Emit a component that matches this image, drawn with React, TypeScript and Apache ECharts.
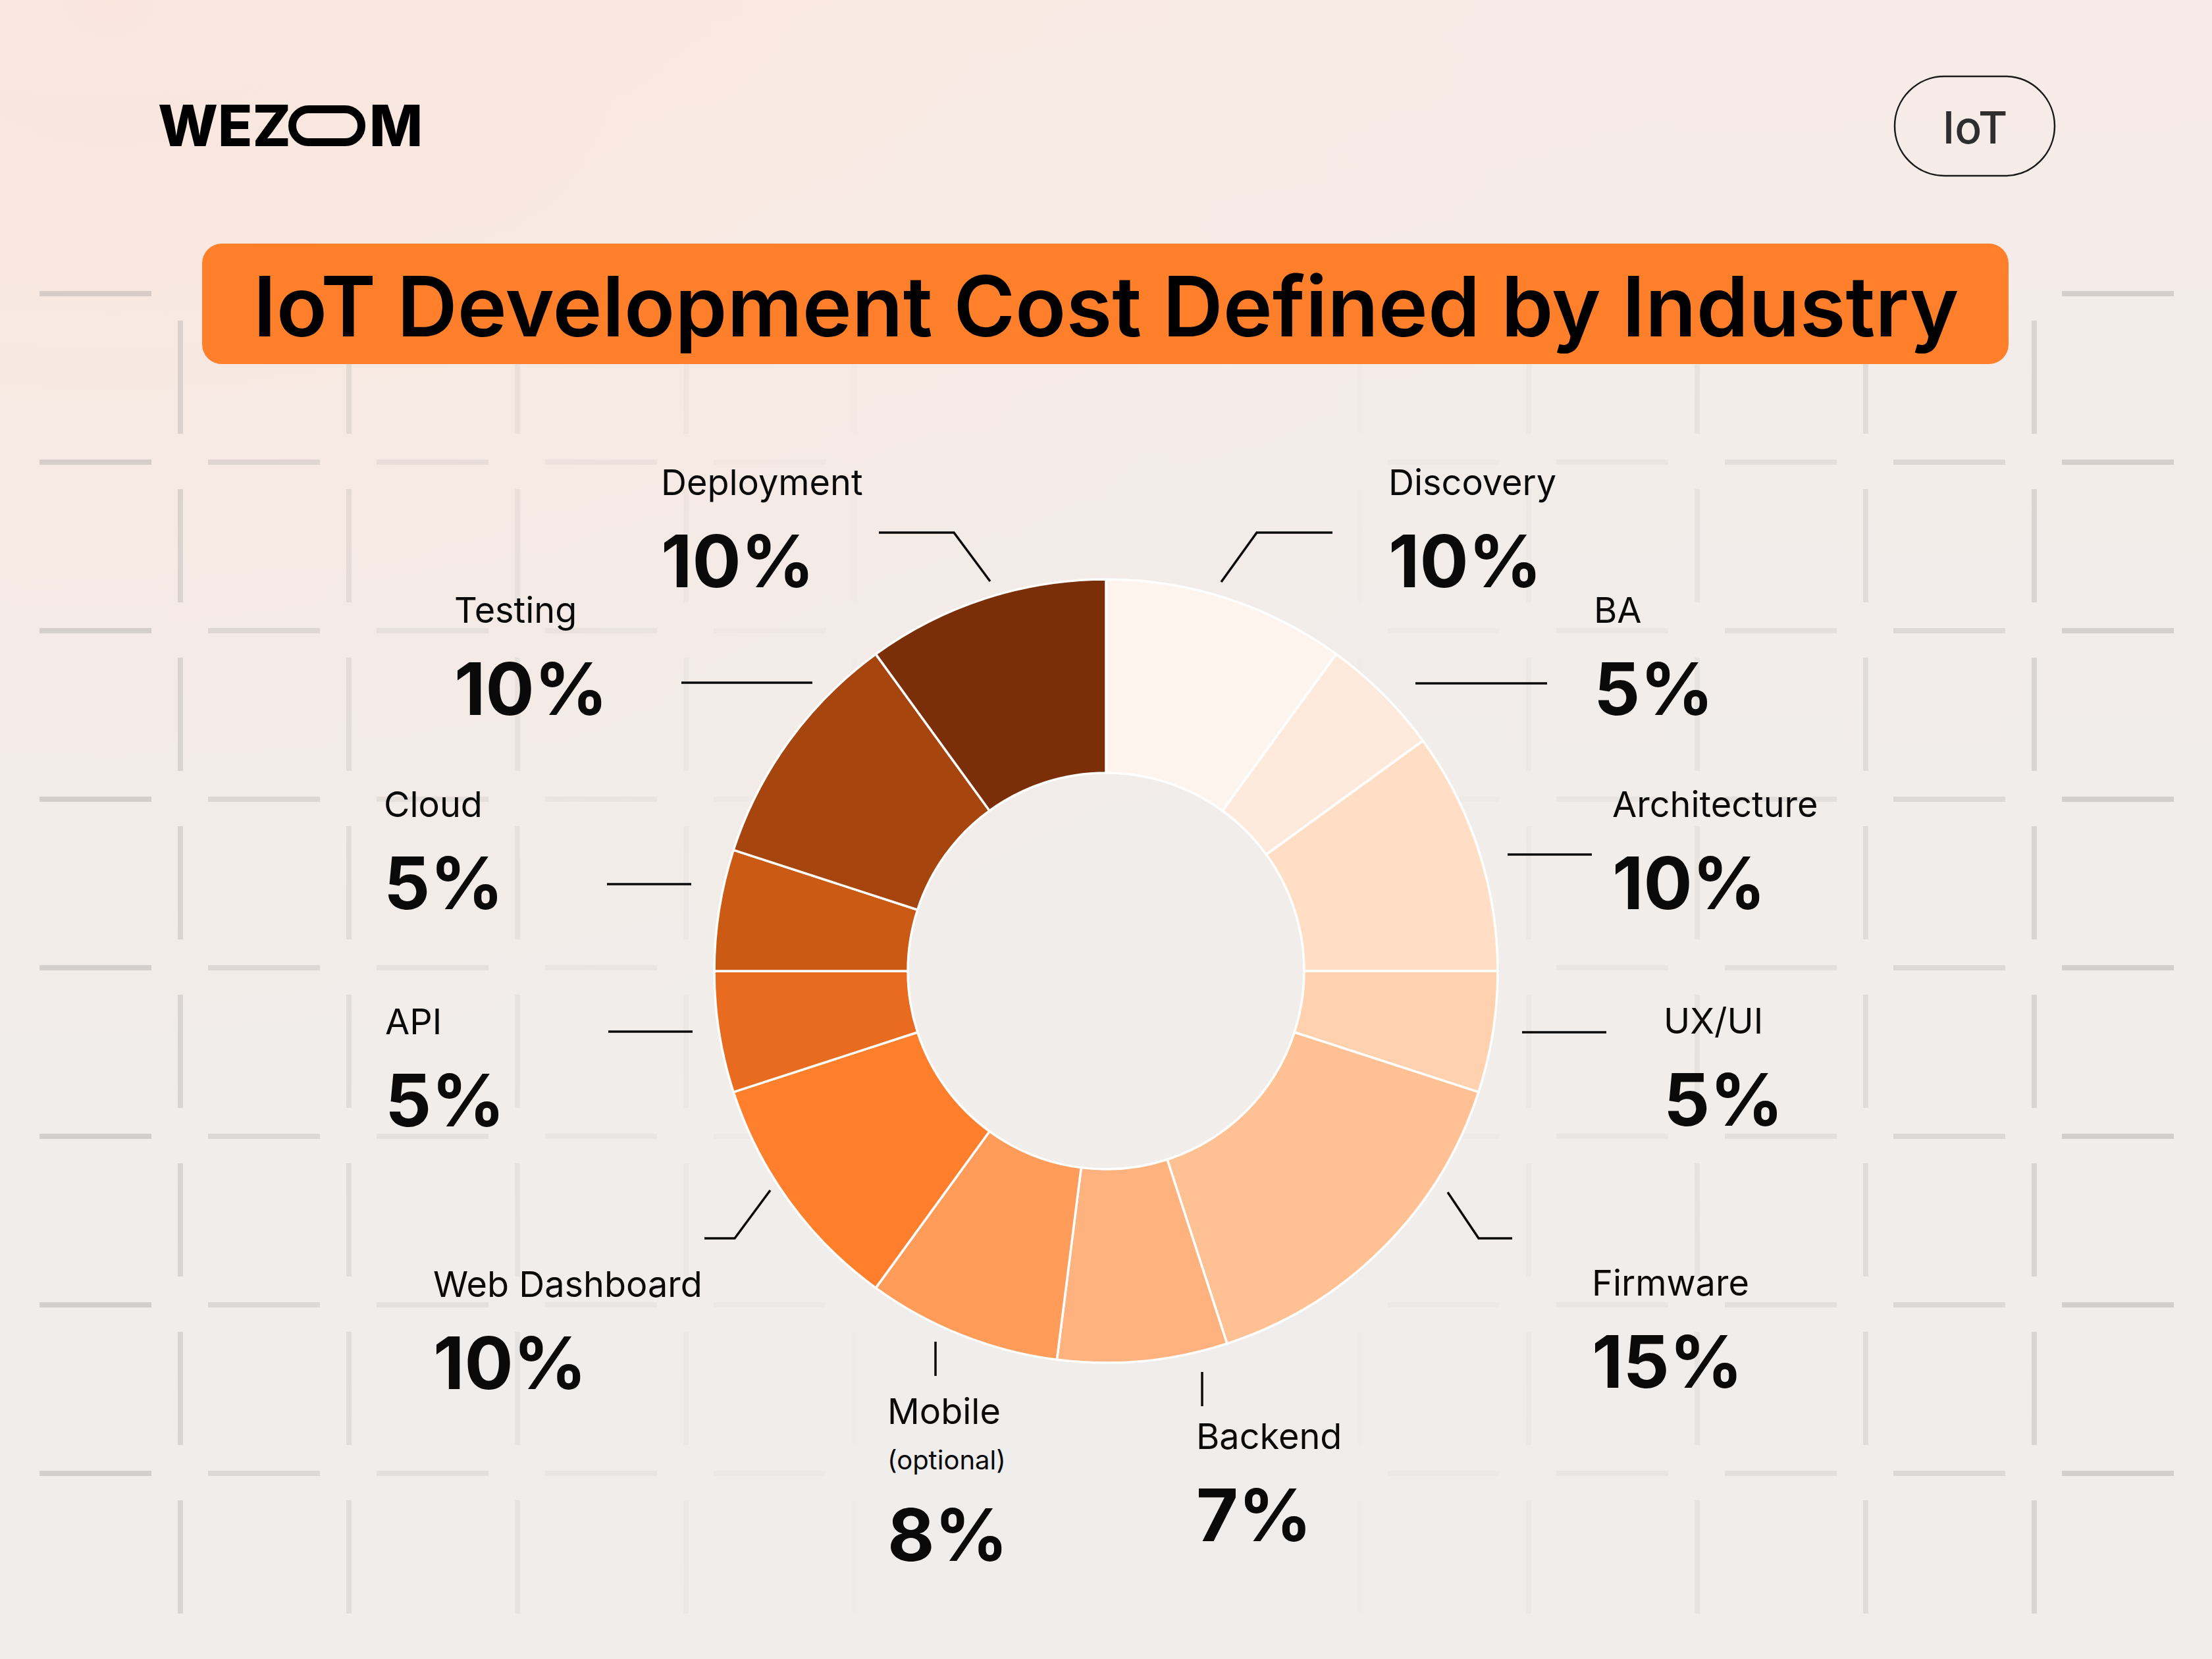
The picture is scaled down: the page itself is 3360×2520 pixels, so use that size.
import React, { useEffect, useRef } from 'react';
import * as echarts from 'echarts';

// ---------- data ----------
const categories = ['Discovery', 'BA', 'Architecture', 'UX/UI', 'Firmware', 'Backend', 'Mobile', 'Web Dashboard', 'API', 'Cloud', 'Testing', 'Deployment'];
const shares = [10, 5, 10, 5, 15, 7, 8, 10, 5, 5, 10, 10];
const notes = ['', '', '', '', '', '', '(optional)', '', '', '', '', ''];
const sliceColors = ['#FEF4EE', '#FEEADC', '#FFDEC5', '#FFD1AF', '#FFC193', '#FFB27E', '#FF9C5A', '#FF7F2C', '#E86B1F', '#CB5A15', '#A6460E', '#7B2F09'];
const titleText = 'IoT Development Cost Defined by Industry';
const brandParts = ['WEZ', 'M'];
const tagText = 'IoT';

// ---------- layout (positions only) ----------
const labelAnchors = [
  [2109, 732], [2421, 926], [2449, 1221], [2527, 1550], [2418, 1948], [1817, 2181],
  [1348, 2143], [658, 1950], [585, 1551], [583, 1221], [690, 926], [1004, 732],
];
const leaderLines = [
  [[1855, 884], [1909, 809], [2024, 809]],
  [[2150, 1038], [2250, 1038], [2350, 1038]],
  [[2290, 1298], [2354, 1298], [2418, 1298]],
  [[2312, 1568], [2376, 1568], [2440, 1568]],
  [[2199, 1811], [2246, 1881], [2297, 1881]],
  [[1826, 2084], [1826, 2110], [1826, 2136]],
  [[1421, 2038], [1421, 2064], [1421, 2090]],
  [[1170, 1808], [1116, 1881], [1070, 1881]],
  [[1052, 1567], [988, 1567], [924, 1567]],
  [[1050, 1343], [986, 1343], [922, 1343]],
  [[1234, 1037], [1134, 1037], [1035, 1037]],
  [[1504, 883], [1449, 809], [1335, 809]],
];

const W = 3360;
const H = 2520;
const FONT = 'Inter, "Noto Sans", sans-serif';

function buildGraphics() {
  const g: any[] = [];
  // soft peach glow top-left
  g.push({
    type: 'rect', z: 0, silent: true,
    shape: { x: 0, y: 0, width: W, height: H },
    style: {
      fill: new echarts.graphic.RadialGradient(0.05, 0.0, 0.7, [
        { offset: 0, color: 'rgba(252,226,214,0.55)' },
        { offset: 1, color: 'rgba(252,226,214,0)' },
      ]),
    },
  });
  // dashed grid pattern
  const fade = (cx: number) => {
    const t = Math.min(1, Math.abs(cx - 1680) / 1600);
    return 0.36 * t * t;
  };
  for (let k = 0; k < 8; k++) {
    for (let j = 0; j < 13; j++) {
      const x = 60 + 256 * j;
      const a = fade(x + 85);
      if (a < 0.01) continue;
      g.push({ type: 'rect', z: 0, silent: true, shape: { x, y: 442 + 256 * k, width: 170, height: 8 }, style: { fill: `rgba(150,150,150,${a.toFixed(3)})` } });
    }
    for (let j = 0; j < 12; j++) {
      const x = 274 + 256 * j;
      const a = fade(x);
      if (a < 0.01) continue;
      g.push({ type: 'rect', z: 0, silent: true, shape: { x: x - 4, y: 487 + 256 * k, width: 8, height: 172 }, style: { fill: `rgba(150,150,150,${a.toFixed(3)})` } });
    }
  }
  // logo
  g.push({ type: 'text', z: 6, silent: true, style: { text: brandParts[0], x: 240, y: 191, fill: '#000', fontSize: 86, fontWeight: 800, fontFamily: FONT, align: 'left', verticalAlign: 'middle', textAlign: 'left', textVerticalAlign: 'middle' } });
  g.push({ type: 'rect', z: 6, silent: true, shape: { x: 444, y: 166, width: 105, height: 50, r: 25 }, style: { fill: 'none', stroke: '#000', lineWidth: 12 } });
  g.push({ type: 'text', z: 6, silent: true, style: { text: brandParts[1], x: 561, y: 191, fill: '#000', fontSize: 86, fontWeight: 800, fontFamily: FONT, align: 'left', verticalAlign: 'middle', textAlign: 'left', textVerticalAlign: 'middle' } });
  // tag pill
  g.push({ type: 'rect', z: 6, silent: true, shape: { x: 2878, y: 116, width: 243, height: 151, r: 75.5 }, style: { fill: 'none', stroke: '#1A1A1A', lineWidth: 2.5 } });
  g.push({ type: 'text', z: 6, silent: true, style: { text: tagText, x: 3000, y: 193, fill: '#2E2E2E', fontSize: 68, fontWeight: 500, fontFamily: FONT, align: 'center', verticalAlign: 'middle', textAlign: 'center', textVerticalAlign: 'middle' } });
  // title banner
  g.push({ type: 'rect', z: 6, silent: true, shape: { x: 307, y: 370, width: 2744, height: 183, r: 30 }, style: { fill: '#FF7F2A' } });
  g.push({ type: 'text', z: 7, silent: true, style: { text: titleText, x: 1680, y: 465, fill: '#000', fontSize: 127, fontWeight: 600, fontFamily: FONT, align: 'center', verticalAlign: 'middle', textAlign: 'center', textVerticalAlign: 'middle' } });
  return g;
}

export default function App() {
  const ref = useRef<HTMLDivElement>(null);
  useEffect(() => {
    document.body.style.margin = '0';
    if (!ref.current) return;
    const chart = echarts.init(ref.current, null, { renderer: 'svg', width: W, height: H });
    const option: any = {
      animation: false,
      backgroundColor: new echarts.graphic.LinearGradient(0, 0, 0, 1, [
        { offset: 0, color: '#F7EBE7' },
        { offset: 0.35, color: '#F2EDEA' },
        { offset: 1, color: '#EFEEED' },
      ]),
      graphic: { elements: buildGraphics() },
      series: [
        {
          type: 'pie',
          z: 3,
          silent: true,
          center: [1680, 1475],
          radius: [301, 595],
          startAngle: 90,
          clockwise: true,
          avoidLabelOverlap: false,
          emphasis: { disabled: true },
          itemStyle: { borderColor: '#FFFFFF', borderWidth: 3.5 },
          data: categories.map((name, i) => ({ name, value: shares[i], itemStyle: { color: sliceColors[i] } })),
          label: {
            show: true,
            position: 'outside',
            color: '#0A0A0A',
            fontFamily: FONT,
            formatter: (p: any) => {
              const note = notes[p.dataIndex];
              return note
                ? `{n|${p.name}}\n{s|${note}}\n{v|${p.value}%}`
                : `{n|${p.name}}\n{v|${p.value}%}`;
            },
            rich: {
              n: { fontSize: 54, fontWeight: 400, lineHeight: 80, color: '#0A0A0A', fontFamily: FONT },
              s: { fontSize: 40, fontWeight: 400, lineHeight: 68, color: '#0A0A0A', fontFamily: FONT },
              v: { fontSize: 110, fontWeight: 700, lineHeight: 160, color: '#0A0A0A', fontFamily: FONT },
            },
          },
          labelLine: { show: true, lineStyle: { color: '#0A0A0A', width: 3.5 } },
          labelLayout: (params: any) => {
            const i = params.dataIndex;
            return {
              x: labelAnchors[i][0],
              y: labelAnchors[i][1] - 40,
              align: 'left',
              verticalAlign: 'top',
              labelLinePoints: leaderLines[i],
            };
          },
        },
      ],
    };
    chart.setOption(option);
    return () => chart.dispose();
  }, []);
  return <div ref={ref} style={{ width: W, height: H }} />;
}
